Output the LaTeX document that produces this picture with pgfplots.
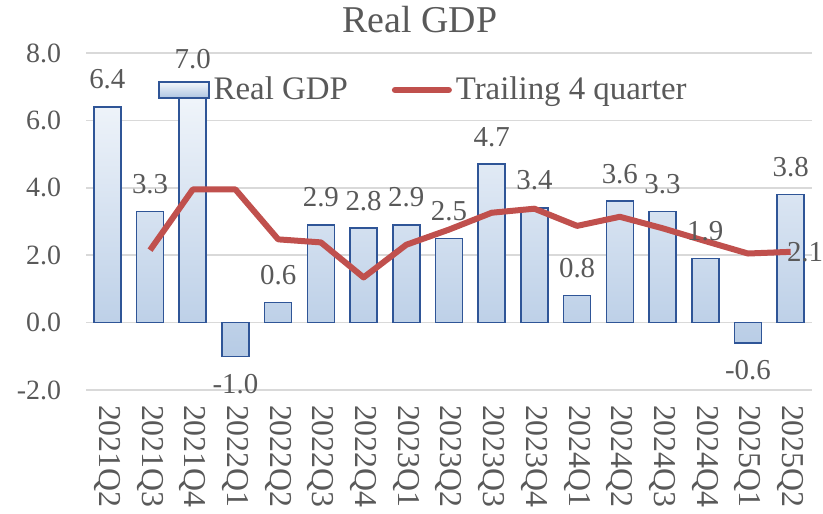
\documentclass[border=0pt]{standalone}
\usepackage{pgfplots}
\pgfplotsset{compat=1.18}
\usepackage{fontspec}
\setmainfont{Liberation Serif}
\definecolor{txt}{HTML}{595959}
\definecolor{barline}{HTML}{2F5597}
\definecolor{bartop}{HTML}{F2F6FB}
\definecolor{barmid}{HTML}{ADC4E1}
\definecolor{barbot}{HTML}{B6CBE5}
\definecolor{linered}{HTML}{C0504D}
\definecolor{gridc}{HTML}{D9D9D9}
\begin{document}
\begin{tikzpicture}
\path[use as bounding box] (0,0) rectangle (411.5bp,257bp);
\begin{axis}[
  at={(43bp,62bp)}, anchor=south west,
  scale only axis, width=363bp, height=168.5bp,
  xmin=-0.5, xmax=16.5, ymin=-2, ymax=8,
  axis line style={draw=none},
  major tick length=0pt,
  ytick={-2,0,2,4,6,8},
  ymajorgrids, grid style={gridc, line width=0.75bp},
  /pgf/number format/.cd, fixed, fixed zerofill, precision=1, assume math mode=true,
  /pgfplots/.cd,
  yticklabel style={font=\fontsize{14}{14}\selectfont, text=txt, xshift=-9bp},
  xtick={0,...,16},
  xticklabels={2021Q2,2021Q3,2021Q4,2022Q1,2022Q2,2022Q3,2022Q4,2023Q1,2023Q2,2023Q3,2023Q4,2024Q1,2024Q2,2024Q3,2024Q4,2025Q1,2025Q2},
  xticklabel style={rotate=-90, anchor=west, font=\fontsize{16}{16}\selectfont, text=txt, xshift=4bp},
  legend style={at={(0.466,0.89)}, anchor=center, draw=none, fill=none,
    font=\fontsize{16.5}{18}\selectfont, text=txt,
    /tikz/every even column/.append style={column sep=20bp}},
  legend columns=2,
  legend cell align=left,
  clip=false,
]
\addplot[ybar, bar width=13.5bp, draw=barline, line width=0.8bp,
  top color=bartop, middle color=barmid, bottom color=barbot,
  nodes near coords, point meta=y,
  every node near coord/.append style={font=\fontsize{14.5}{14.5}\selectfont, text=txt, inner sep=8.5bp},
  legend image code/.code={\draw[draw=barline, line width=0.8bp, top color=bartop, bottom color=barmid] (0bp,-4bp) rectangle (25bp,4bp);}
] coordinates {
 (0,6.4) (1,3.3) (2,7.0) (3,-1.0) (4,0.6) (5,2.9) (6,2.8) (7,2.9) (8,2.5)
 (9,4.7) (10,3.4) (11,0.8) (12,3.6) (13,3.3) (14,1.9) (15,-0.6) (16,3.8)
};
\addlegendentry{Real GDP}
\addplot[linered, line width=3bp, no markers, line join=round,
  legend image code/.code={\draw[linered, line width=3bp, line cap=round] (0bp,0bp) -- (27bp,0bp);}
] coordinates {
 (1,2.15) (2,3.95) (3,3.95) (4,2.47) (5,2.38) (6,1.34) (7,2.31) (8,2.76)
 (9,3.26) (10,3.38) (11,2.87) (12,3.14) (13,2.8) (14,2.42) (15,2.05) (16,2.1)
};
\addlegendentry{Trailing 4 quarter}
\addplot[draw=none, no markers, forget plot, nodes near coords, point meta=y,
  every node near coord/.append style={anchor=west, inner sep=0pt, xshift=-2bp, font=\fontsize{14.5}{14.5}\selectfont, text=txt}
] coordinates {(16,2.1)};
\node[anchor=center, inner sep=0pt, font=\fontsize{19}{19}\selectfont, text=txt] at (rel axis cs:0.46,1.098) {Real GDP};
\end{axis}
\end{tikzpicture}
\end{document}
